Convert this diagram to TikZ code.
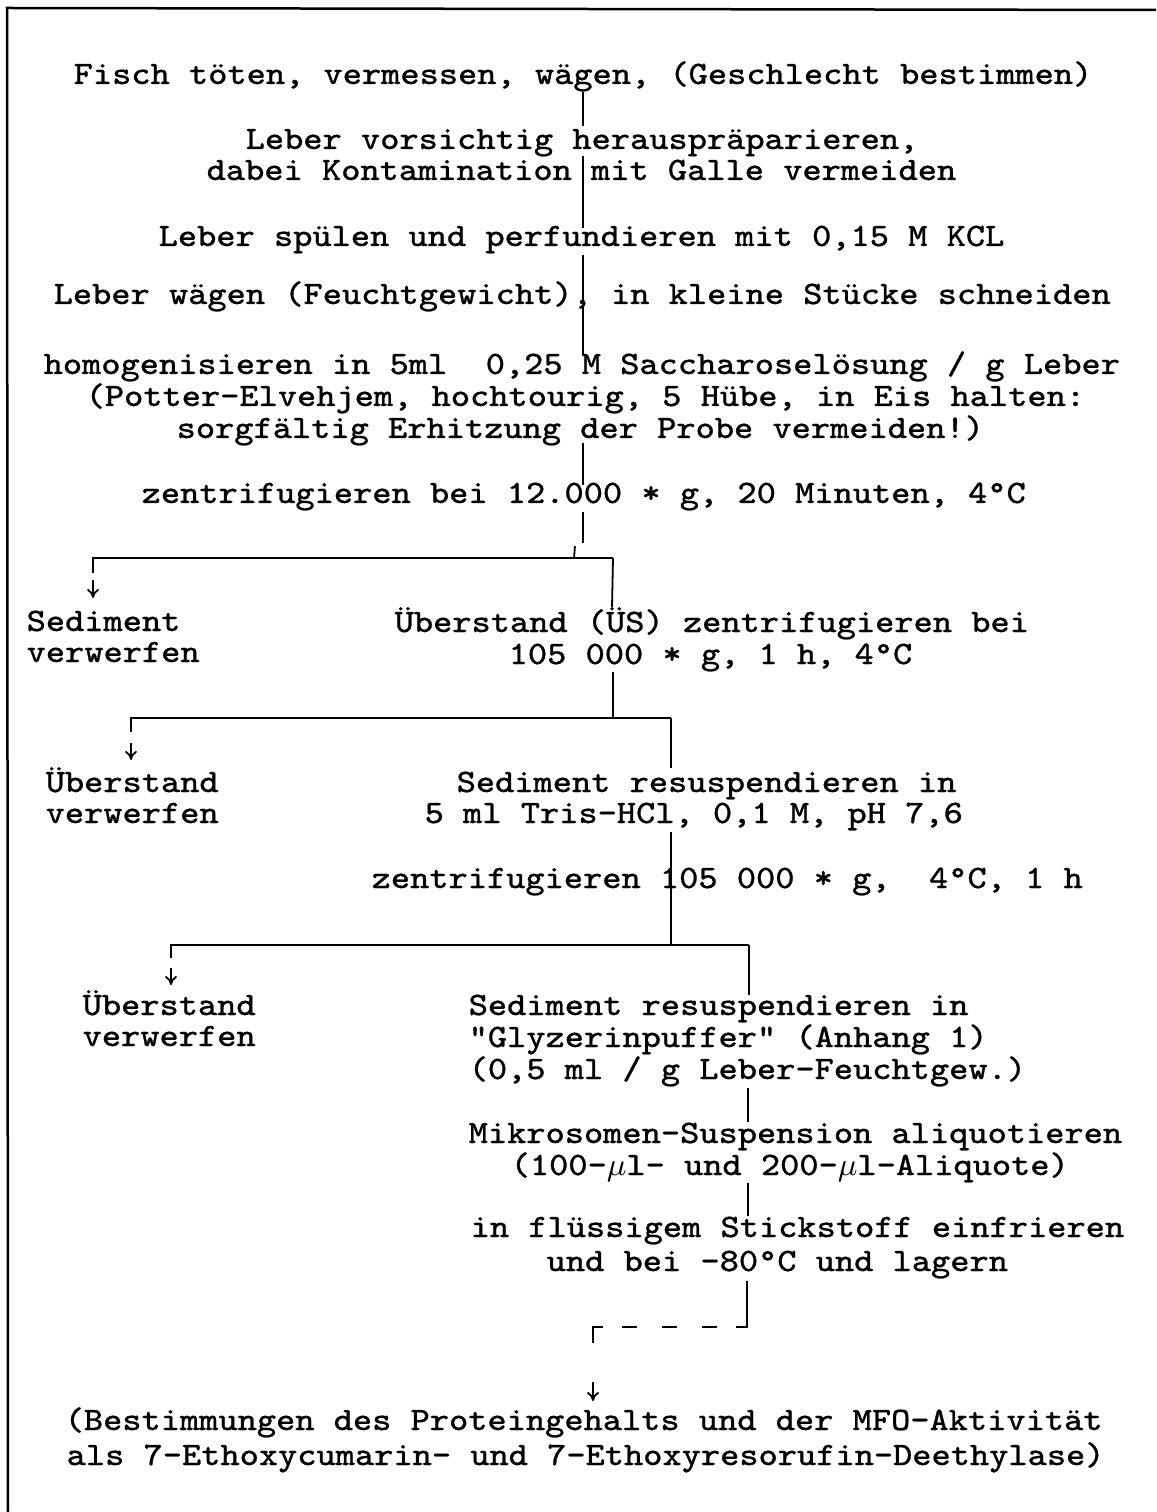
\documentclass[tikz,border=0pt]{standalone}
\usepackage{fontspec}
\newfontfamily\tw{Latin Modern Mono}[Ligatures=TeXOff, FakeStretch=1.12, FakeBold=0.8]
\usetikzlibrary{arrows.meta}
\begin{document}
\begin{tikzpicture}[x=0.1mm,y=-0.1mm,
  txt/.style={anchor=base west, inner sep=0pt, font=\tw\fontsize{9.3pt}{10pt}\selectfont},
  conn/.style={line width=0.18mm},
  bar/.style={line width=0.27mm},
  frame/.style={line width=0.25mm},
  tip/.style={-{To[length=0.9mm,width=1.2mm]}, line width=0.18mm}]
\useasboundingbox (0,0) rectangle (1156,1512);
% frame
\coordinate (fTL) at (7,8);
\coordinate (fTR) at (1156,10);
\coordinate (fBL) at (8,1512);
\draw[frame] (fTR) -- (fTL) -- (fBL);
% texts
\node[txt] (l1) at (73,84) {Fisch töten, vermessen, wägen, (Geschlecht bestimmen)};
\node[txt] (l2) at (245,149) {Leber vorsichtig herauspräparieren,};
\node[txt] (l3) at (206,180) {dabei Kontamination mit Galle vermeiden};
\node[txt] (l4) at (158,246) {Leber spülen und perfundieren mit 0,15 M KCL};
\node[txt] (l5) at (53,304) {Leber wägen (Feuchtgewicht), in kleine Stücke schneiden};
\node[txt] (l6) at (43,374) {homogenisieren in 5ml~ 0,25 M Saccharoselösung / g Leber};
\node[txt] (l7) at (85,406) {(Potter-Elvehjem, hochtourig, 5 Hübe, in Eis halten:};
\node[txt] (l8) at (176,438) {sorgfältig Erhitzung der Probe vermeiden!)};
\node[txt] (l9) at (141,503) {zentrifugieren bei 12.000 * g, 20 Minuten, 4°C};
\node[txt] (a1) at (26,631) {Sediment};
\node[txt] (a2) at (26,662) {verwerfen};
\node[txt] (b1) at (394,632) {Überstand (ÜS) zentrifugieren bei};
\node[txt] (b2) at (508,664) {105 000 * g, 1 h, 4°C};
\node[txt] (c1) at (45,792) {Überstand};
\node[txt] (c2) at (45,823) {verwerfen};
\node[txt] (d1) at (456,792) {Sediment resuspendieren in};
\node[txt] (d2) at (424,823) {5 ml Tris-HCl, 0,1 M, pH 7,6};
\node[txt] (d3) at (371,888) {zentrifugieren 105 000 * g,~ 4°C, 1 h};
\node[txt] (e1) at (82,1015) {Überstand};
\node[txt] (e2) at (82,1046) {verwerfen};
\node[txt] (f1) at (468,1015) {Sediment resuspendieren in};
\node[txt] (f2) at (468,1047) {"Glyzerinpuffer" (Anhang 1)};
\node[txt] (f3) at (468,1079) {(0,5 ml / g Leber-Feuchtgew.)};
\node[txt] (g1) at (468,1143) {Mikrosomen-Suspension aliquotieren};
\node[txt] (g2) at (510,1175) {(100-$\mu$l- und 200-$\mu$l-Aliquote)};
\node[txt] (h1) at (470,1237) {in flüssigem Stickstoff einfrieren};
\node[txt] (h2) at (546,1271) {und bei -80°C und lagern};
\node[txt] (z1) at (64,1430) {(Bestimmungen des Proteingehalts und der MFO-Aktivität};
\node[txt] (z2) at (66,1465) {als 7-Ethoxycumarin- und 7-Ethoxyresorufin-Deethylase)};
% main vertical connectors
\coordinate (s1a) at (583,92);  \coordinate (s1b) at (583,126);
\coordinate (s2a) at (583,156); \coordinate (s2b) at (583,228);
\coordinate (s3a) at (583,255); \coordinate (s3b) at (583,355);
\coordinate (s4a) at (583,443); \coordinate (s4b) at (583,485);
\coordinate (s5a) at (583,512); \coordinate (s5b) at (583,543);
\coordinate (s5c) at (575,546); \coordinate (s5d) at (574,558);
\draw[conn] (s1a) -- (s1b);
\draw[conn] (s2a) -- (s2b);
\draw[conn] (s3a) -- (s3b);
\draw[conn] (s4a) -- (s4b);
\draw[conn] (s5a) -- (s5b);
\draw[conn] (s5c) -- (s5d);
% branch 1
\coordinate (h1L) at (93,558); \coordinate (h1R) at (613,558);
\draw[bar] (93,573) -- (h1L) -- (h1R);
\draw[conn] (h1R) -- (612,607);
\draw[tip] (93,580) -- (93,598);
% branch 2
\coordinate (s6a) at (613,672);
\coordinate (h2L) at (131,718); \coordinate (h2R) at (671,718);
\draw[conn] (s6a) -- (613,718);
\draw[bar] (131,732) -- (h2L) -- (h2R);
\draw[conn] (h2R) -- (671,768);
\draw[tip] (131,743) -- (131,760);
% branch 3
\coordinate (s7a) at (671,832);
\coordinate (h3L) at (171,945); \coordinate (h3R) at (749,945);
\draw[conn] (s7a) -- (671,945);
\draw[bar] (171,958) -- (h3L) -- (h3R);
\draw[conn] (h3R) -- (749,995);
\draw[tip] (171,968) -- (171,985);
% lower chain
\coordinate (s8a) at (748,1088); \coordinate (s8b) at (748,1122);
\coordinate (s9a) at (748,1183); \coordinate (s9b) at (748,1216);
\draw[conn] (s8a) -- (s8b);
\draw[conn] (s9a) -- (s9b);
% dashed link
\coordinate (k1) at (747,1281); \coordinate (k2) at (747,1327);
\draw[conn] (k1) -- (k2) -- (736,1327);
\draw[bar, dash pattern=on 4.2pt off 7.2pt] (717,1327) -- (622,1327);
\coordinate (k3) at (593,1327);
\draw[conn] (603,1327) -- (k3) -- (593,1343);
\draw[tip] (593,1382) -- (593,1401);
\end{tikzpicture}
\end{document}
